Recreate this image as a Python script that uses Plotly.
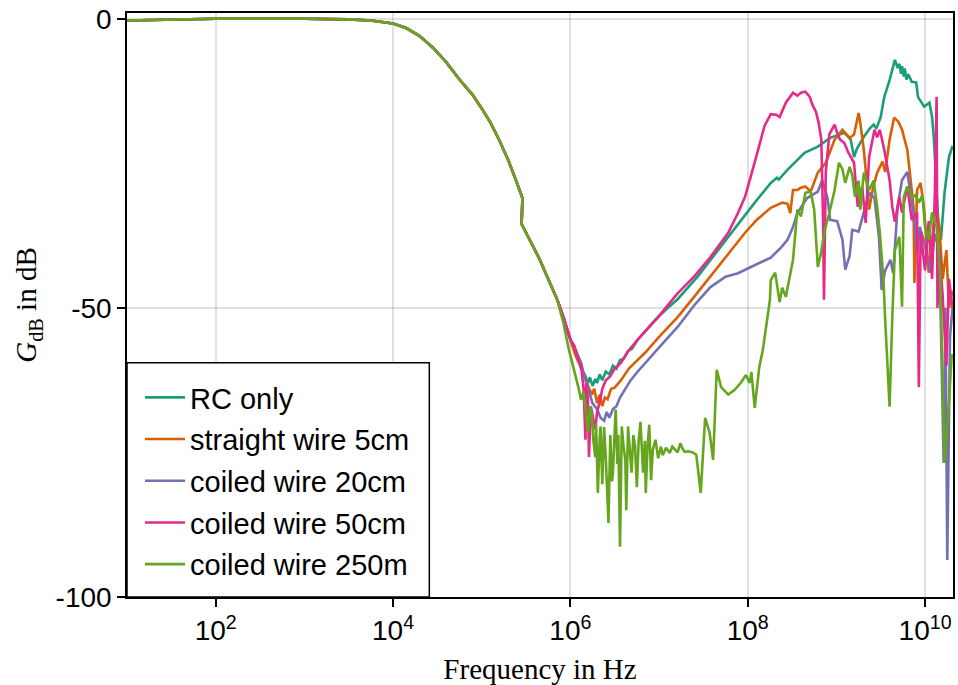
import plotly.graph_objects as go

# Shared low-frequency band (all five measurements coincide here)
lowband_hz = [1.00e1, 3.16e1, 1.00e2, 1.00e3, 3.16e3, 5.62e3, 1.00e4, 1.41e4, 2.00e4,
              2.82e4, 3.98e4, 5.62e4, 7.94e4, 1.00e5, 1.26e5, 1.58e5, 2.00e5, 2.51e5, 2.88e5]
lowband_db = [-0.3, -0.1, 0.0, 0.0, -0.1, -0.3, -0.8, -1.6, -3.0,
              -5.0, -7.5, -10.5, -13.2, -15.5, -18.0, -21.0, -24.5, -28.5, -31.0]

# Second measurement range, common descent towards the minimum
descent_hz = [2.82e5, 3.55e5, 4.47e5, 5.62e5, 7.08e5, 8.32e5, 1.00e6]
descent_db = [-35.5, -38.5, -41.5, -45.0, -48.5, -51.5, -55.5]

# RC only
rc_hz = [1.10e6, 1.20e6, 1.32e6, 1.45e6, 1.58e6, 1.66e6, 1.78e6, 1.91e6, 2.00e6, 2.14e6,
         2.29e6, 2.51e6, 2.75e6, 3.02e6, 3.31e6, 3.63e6, 3.98e6, 4.47e6, 5.01e6, 5.75e6,
         7.08e6, 9.12e6, 1.26e7, 1.62e7, 2.75e7, 3.80e7, 5.01e7, 7.94e7, 1.20e8, 1.82e8,
         2.14e8, 2.24e8, 2.82e8, 4.37e8, 6.17e8, 8.51e8, 1.23e9, 1.45e9, 1.58e9, 1.70e9,
         2.04e9, 2.40e9, 2.63e9, 2.82e9, 3.16e9, 3.47e9, 3.98e9, 4.57e9, 4.90e9, 5.13e9,
         5.37e9, 5.50e9, 5.75e9, 5.89e9, 6.17e9, 6.46e9, 7.08e9, 7.94e9, 8.32e9, 9.77e9,
         1.12e10, 1.20e10, 1.26e10, 1.41e10, 1.51e10, 1.66e10, 1.86e10, 2.04e10]
rc_db = [-57.0, -58.5, -60.5, -61.5, -63.0, -62.0, -63.5, -62.3, -63.0, -61.5,
         -62.5, -61.0, -61.5, -60.0, -60.5, -59.0, -58.8, -57.5, -57.0, -55.5,
         -54.0, -52.0, -50.0, -48.5, -44.5, -41.7, -39.3, -35.3, -31.8, -28.4,
         -27.5, -27.8, -26.1, -23.2, -22.1, -20.6, -19.7, -20.9, -23.9, -22.5,
         -20.4, -18.9, -18.3, -19.0, -17.0, -13.5, -10.6, -7.1, -8.5, -7.8,
         -9.5, -8.2, -10.0, -8.6, -10.5, -9.6, -10.9, -11.0, -13.5, -15.2,
         -14.5, -17.0, -20.9, -35.3, -38.2, -30.0, -23.9, -22.0]

# straight wire 5cm
straight5_hz = [1.10e6, 1.20e6, 1.32e6, 1.45e6, 1.58e6, 1.74e6, 1.86e6, 2.00e6, 2.14e6, 2.29e6,
                2.45e6, 2.63e6, 2.88e6, 3.16e6, 3.72e6, 4.57e6, 5.75e6, 6.92e6, 1.00e7, 1.62e7,
                2.51e7, 3.80e7, 6.31e7, 9.33e7, 1.26e8, 1.82e8, 2.45e8, 2.82e8, 3.02e8, 3.24e8,
                3.63e8, 3.98e8, 4.47e8, 5.13e8, 6.17e8, 7.59e8, 9.55e8, 1.17e9, 1.41e9, 1.58e9,
                1.78e9, 1.86e9, 2.04e9, 2.24e9, 2.34e9, 2.57e9, 2.88e9, 3.31e9, 3.55e9, 3.98e9,
                4.47e9, 5.01e9, 5.50e9, 6.31e9, 6.76e9, 7.41e9, 7.59e9, 8.13e9, 8.91e9, 9.77e9,
                1.10e10, 1.20e10, 1.32e10, 1.45e10, 1.58e10, 1.74e10, 1.86e10, 2.04e10]
straight5_db = [-57.5, -59.0, -60.0, -62.0, -63.5, -65.0, -64.0, -66.5, -65.0, -67.0,
                -65.5, -65.8, -64.0, -63.8, -62.5, -60.5, -59.0, -57.8, -55.0, -51.6,
                -48.0, -44.6, -40.3, -37.0, -34.8, -32.7, -31.8, -32.0, -33.6, -29.6,
                -29.6, -29.2, -29.0, -29.9, -26.6, -24.9, -20.9, -19.2, -20.6, -20.0,
                -16.3, -18.0, -22.7, -29.6, -33.0, -29.5, -26.6, -24.7, -26.5, -20.9,
                -17.1, -17.8, -19.2, -22.7, -26.6, -32.5, -45.7, -29.6, -28.4, -33.0,
                -43.9, -38.0, -32.0, -36.0, -45.0, -40.0, -50.0, -47.0]

# coiled wire 20cm
coil20_hz = [1.10e6, 1.20e6, 1.32e6, 1.45e6, 1.58e6, 1.78e6, 2.00e6, 2.19e6, 2.40e6, 2.57e6,
             2.75e6, 3.02e6, 3.31e6, 3.63e6, 4.17e6, 4.79e6, 5.75e6, 8.13e6, 1.12e7, 1.62e7,
             2.51e7, 3.80e7, 5.62e7, 7.76e7, 1.12e8, 1.82e8, 2.40e8, 2.82e8, 3.24e8, 3.63e8,
             4.68e8, 6.17e8, 6.92e8, 7.94e8, 8.51e8, 1.02e9, 1.17e9, 1.26e9, 1.41e9, 1.51e9,
             1.78e9, 2.04e9, 2.34e9, 2.69e9, 3.02e9, 3.24e9, 3.55e9, 4.07e9, 4.37e9, 4.90e9,
             5.50e9, 6.31e9, 6.76e9, 7.59e9, 8.13e9, 8.71e9, 9.55e9, 1.15e10, 1.29e10, 1.45e10,
             1.62e10, 1.70e10, 1.78e10, 1.91e10, 2.04e10]
coil20_db = [-56.5, -58.0, -59.5, -62.0, -64.0, -66.5, -67.5, -69.0, -69.5, -68.0,
             -69.0, -67.5, -67.0, -65.5, -64.0, -62.5, -61.0, -58.5, -56.0, -53.3,
             -49.5, -46.4, -44.6, -44.0, -42.8, -41.3, -39.5, -38.2, -36.0, -33.6,
             -31.0, -29.9, -27.9, -31.0, -34.8, -35.0, -38.2, -43.4, -41.0, -36.5,
             -36.8, -33.6, -30.1, -31.0, -37.7, -46.9, -43.5, -41.7, -44.0, -32.5,
             -27.9, -26.5, -29.6, -34.8, -40.5, -36.0, -38.0, -43.9, -37.2, -40.0,
             -76.8, -50.0, -93.6, -55.0, -50.0]

# coiled wire 50cm
coil50_hz = [1.10e6, 1.20e6, 1.32e6, 1.41e6, 1.48e6, 1.51e6, 1.58e6, 1.62e6, 1.70e6, 1.82e6,
             1.91e6, 2.00e6, 2.14e6, 2.29e6, 2.51e6, 2.82e6, 3.16e6, 3.72e6, 4.47e6, 5.75e6,
             9.12e6, 1.62e7, 2.51e7, 3.80e7, 6.03e7, 7.76e7, 9.33e7, 1.20e8, 1.55e8, 1.82e8,
             2.09e8, 2.29e8, 2.69e8, 3.24e8, 3.63e8, 3.98e8, 4.47e8, 5.01e8, 5.37e8, 5.89e8,
             6.31e8, 6.76e8, 7.08e8, 7.24e8, 7.41e8, 7.59e8, 8.32e8, 9.55e8, 1.02e9, 1.10e9,
             1.23e9, 1.35e9, 1.58e9, 1.74e9, 1.95e9, 2.14e9, 2.34e9, 2.69e9, 2.88e9, 3.09e9,
             3.47e9, 3.98e9, 4.27e9, 4.57e9, 5.13e9, 5.50e9, 6.31e9, 7.08e9, 8.13e9, 8.51e9,
             8.91e9, 9.33e9, 1.00e10, 1.10e10, 1.20e10, 1.29e10, 1.35e10, 1.38e10, 1.45e10,
             1.58e10, 1.74e10, 1.86e10, 2.04e10]
coil50_db = [-56.5, -58.5, -60.0, -64.0, -72.8, -63.0, -66.0, -75.8, -67.0, -69.4,
             -71.0, -68.0, -66.4, -64.0, -62.5, -61.8, -60.5, -59.5, -57.5, -55.5,
             -52.1, -47.5, -44.5, -41.2, -37.0, -33.6, -30.8, -24.8, -18.5, -16.5,
             -16.6, -17.0, -14.5, -12.8, -13.3, -12.8, -12.6, -13.5, -14.9, -16.1,
             -18.0, -20.9, -35.0, -48.6, -40.0, -26.6, -20.0, -18.3, -19.7, -20.9,
             -21.5, -23.0, -24.9, -32.5, -29.0, -35.3, -23.9, -19.2, -20.5, -19.2,
             -22.7, -27.9, -32.5, -35.1, -30.8, -33.5, -29.0, -34.8, -33.5, -63.7,
             -37.0, -40.0, -43.5, -35.0, -45.0, -30.0, -13.5, -50.0, -40.0,
             -48.0, -60.0, -45.0, -50.0]

# coiled wire 250m
coil250_hz = [8.32e5, 9.55e5, 1.23e6, 1.32e6, 1.41e6, 1.58e6, 1.66e6, 1.74e6, 1.82e6, 1.91e6,
              1.95e6, 2.04e6, 2.14e6, 2.19e6, 2.29e6, 2.40e6, 2.51e6, 2.69e6, 2.82e6, 2.95e6,
              3.02e6, 3.24e6, 3.39e6, 3.47e6, 3.63e6, 3.80e6, 3.98e6, 4.17e6, 4.27e6, 4.47e6,
              4.68e6, 4.90e6, 5.13e6, 5.37e6, 5.62e6, 5.89e6, 6.17e6, 6.46e6, 6.61e6, 6.92e6,
              7.08e6, 7.41e6, 7.76e6, 8.13e6, 8.51e6, 9.12e6, 9.77e6, 1.05e7, 1.10e7, 1.20e7,
              1.32e7, 1.41e7, 1.51e7, 1.62e7, 1.74e7, 1.86e7, 1.95e7, 2.14e7, 2.40e7, 2.63e7,
              2.95e7, 3.31e7, 3.72e7, 4.07e7, 4.47e7, 5.01e7, 6.03e7, 7.08e7, 8.32e7, 9.55e7,
              1.05e8, 1.10e8, 1.20e8, 1.35e8, 1.48e8, 1.58e8, 1.78e8, 1.82e8, 2.04e8, 2.29e8,
              2.45e8, 2.69e8, 3.02e8, 3.24e8, 3.63e8, 3.98e8, 4.47e8, 5.13e8, 5.62e8, 6.17e8,
              6.61e8, 7.41e8, 8.32e8, 9.55e8, 1.07e9, 1.17e9, 1.26e9, 1.41e9, 1.51e9, 1.62e9,
              1.78e9, 1.86e9, 2.04e9, 2.34e9, 2.63e9, 2.88e9, 3.09e9, 3.39e9, 3.55e9, 3.98e9,
              4.27e9, 4.57e9, 5.13e9, 5.50e9, 5.75e9, 6.31e9, 7.08e9, 7.76e9, 8.51e9, 9.33e9,
              1.00e10, 1.10e10, 1.20e10, 1.35e10, 1.48e10, 1.66e10, 1.86e10, 2.00e10]
coil250_db = [-52.5, -57.0, -63.7, -65.9, -64.5, -71.6, -67.0, -68.5, -73.0, -75.8,
              -70.0, -82.0, -72.5, -70.5, -80.5, -70.6, -76.0, -87.2, -72.0, -80.0,
              -78.5, -67.6, -77.0, -72.0, -91.3, -70.5, -74.0, -76.3, -85.0, -70.5,
              -74.5, -78.5, -72.0, -74.0, -81.0, -73.0, -69.7, -76.0, -78.5, -73.0,
              -82.0, -74.0, -70.2, -79.8, -74.5, -72.8, -76.0, -74.0, -75.5, -74.2,
              -75.1, -74.0, -74.5, -75.0, -73.4, -74.5, -74.9, -74.8, -75.0, -75.4,
              -82.0, -69.0, -71.6, -76.3, -60.7, -63.7, -65.0, -64.2, -63.0, -61.6,
              -63.0, -61.1, -67.3, -60.2, -57.3, -54.3, -48.6, -45.2, -43.9, -49.0,
              -46.5, -48.1, -44.5, -41.7, -33.0, -34.2, -30.1, -29.9, -33.0, -42.9,
              -41.0, -36.5, -33.6, -29.6, -24.9, -26.0, -28.4, -25.6, -27.0, -30.8,
              -28.0, -33.0, -26.6, -29.6, -28.0, -32.5, -37.0, -45.0, -52.1, -67.1,
              -51.5, -40.0, -37.7, -49.8, -30.8, -29.0, -31.0, -30.5, -31.8, -30.5,
              -36.0, -38.2, -33.5, -36.0, -44.0, -76.8, -66.4, -58.0]

series_names = ["RC only", "straight wire 5cm", "coiled wire 20cm",
                "coiled wire 50cm", "coiled wire 250m"]
series_colors = ["#1b9e77", "#d95f02", "#7570b3", "#e7298a", "#66a61e"]

x_tick_vals = [1e2, 1e4, 1e6, 1e8, 1e10]
x_tick_text = ["10<sup>2</sup>", "10<sup>4</sup>", "10<sup>6</sup>",
               "10<sup>8</sup>", "10<sup>10</sup>"]
y_tick_vals = [0, -50, -100]
y_tick_text = ["0", "-50", "-100"]


def full_curve(tail_hz, tail_db, share_descent=True):
    """Low band, the jump at the range switch, then the measured upper band."""
    hz = list(lowband_hz)
    db = list(lowband_db)
    if share_descent:
        hz += descent_hz
        db += descent_db
    else:
        hz += descent_hz[:5]
        db += descent_db[:5]
    return hz + tail_hz, db + tail_db


curves = [
    full_curve(rc_hz, rc_db),
    full_curve(straight5_hz, straight5_db),
    full_curve(coil20_hz, coil20_db),
    full_curve(coil50_hz, coil50_db),
    full_curve(coil250_hz, coil250_db, share_descent=False),
]

fig = go.Figure()
for i, ((hz, db), name, color) in enumerate(zip(curves, series_names, series_colors)):
    fig.add_trace(go.Scatter(
        x=hz, y=db, mode="lines", name=name,
        line=dict(color=color, width=2.6),
        legendgroup=f"g{i}",
    ))

sans = "Liberation Sans, Arial, sans-serif"
serif = "Liberation Serif, Times New Roman, serif"

# Legend frame: white box with black border in the lower-left corner of the axes
fig.add_shape(
    type="rect", xref="paper", yref="paper",
    x0=0, x1=0.366, y0=0, y1=0.401,
    fillcolor="white", line=dict(color="black", width=1.5),
    layer="above",
)

fig.update_layout(
    width=958, height=685,
    margin=dict(l=127, r=3, t=13, b=88),
    paper_bgcolor="white",
    plot_bgcolor="white",
    font=dict(family=sans, size=28, color="black"),
    showlegend=True,
    legend=dict(
        x=0, y=0.012, xanchor="left", yanchor="bottom",
        bgcolor="rgba(0,0,0,0)", borderwidth=0,
        font=dict(family=sans, size=29, color="black"),
        tracegroupgap=1,
        indentation=13,
        itemwidth=40,
    ),
)

fig.update_xaxes(
    type="log", range=[1, 10.315],
    tickvals=x_tick_vals, ticktext=x_tick_text,
    ticks="outside", ticklen=8, tickwidth=1.5, tickcolor="black",
    showgrid=True, gridcolor="rgba(0,0,0,0.12)", gridwidth=1.5,
    showline=True, linecolor="black", linewidth=1.5, mirror=True,
    zeroline=False,
    title=dict(text="Frequency in Hz", font=dict(family=serif, size=29), standoff=13),
)

fig.update_yaxes(
    range=[-100, 1],
    tickvals=y_tick_vals, ticktext=y_tick_text,
    ticks="outside", ticklen=8, tickwidth=1.5, tickcolor="black",
    showgrid=True, gridcolor="rgba(0,0,0,0.12)", gridwidth=1.5,
    showline=True, linecolor="black", linewidth=1.5, mirror=True,
    zeroline=False,
    title=dict(text="<i>G</i><sub>dB</sub> in dB", font=dict(family=serif, size=29), standoff=10),
)

fig.write_html("out.html")
